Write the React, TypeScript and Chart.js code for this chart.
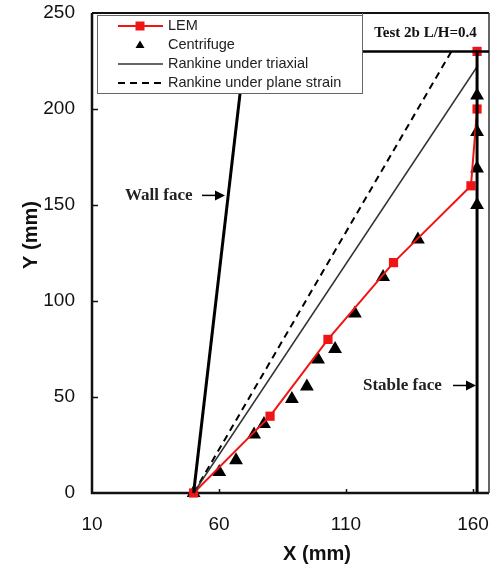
import React, { useEffect, useRef } from 'react';
import { Chart, registerables } from 'chart.js';
Chart.register(...registerables);

// ---- data ----
const X_TICKS = [10, 60, 110, 160];
const Y_TICKS = [0, 50, 100, 150, 200, 250];
const X_MIN = 10;
const X_MAX = 166.3;
const Y_MIN = 0;
const Y_MAX = 250;

const LEM_X = [50, 80.1, 102.9, 128.7, 159.2, 161.6, 161.6];
const LEM_Y = [0, 40, 80, 120, 160, 200, 230];

const CEN_X = [50, 60.1, 66.7, 73.8, 77.7, 88.7, 94.6, 99, 105.7, 113.5, 124.6, 138.3, 161.6, 161.6, 161.6, 161.6];
const CEN_Y = [0, 11, 17, 30.5, 36, 49, 55.5, 69.5, 75, 93.5, 112.5, 132, 150, 169, 188, 207];

const TRIAX_X = [50, 161.6];
const TRIAX_Y = [0, 222];
const PLANE_X = [50, 151.5];
const PLANE_Y = [0, 230];
const WALL_X = [50, 71.1];
const WALL_Y = [0, 240];
const STABLE_X = [161.6, 161.6];
const STABLE_Y = [0, 230];
const BOX_X = [116.3, 166.3];
const BOX_Y = [230, 230];

const LEGEND_LABELS = ['LEM', 'Centrifuge', 'Rankine under triaxial', 'Rankine under plane strain'];
const TEST_LABEL = 'Test 2b L/H=0.4';
const WALL_LABEL = 'Wall face';
const STABLE_LABEL = 'Stable face';
const X_TITLE = 'X (mm)';
const Y_TITLE = 'Y (mm)';

const RED = '#f01414';
const SANS = '"Liberation Sans", Arial, sans-serif';
const SERIF = '"Liberation Serif", "Times New Roman", serif';

const pts = (xs: number[], ys: number[]) => xs.map((x, i) => ({ x, y: ys[i] }));

const decor = {
  id: 'decor',
  beforeDatasetsDraw(chart: any) {
    const { ctx, chartArea: a } = chart;
    const xs = chart.scales.x;
    const ys = chart.scales.y;
    ctx.save();
    ctx.strokeStyle = '#111';
    ctx.lineWidth = 1.5;
    ctx.beginPath();
    Y_TICKS.slice(1, -1).forEach((v) => {
      const p = Math.round(ys.getPixelForValue(v)) + 0.5;
      ctx.moveTo(a.left, p);
      ctx.lineTo(a.left + 6, p);
    });
    X_TICKS.slice(1).forEach((v) => {
      const p = Math.round(xs.getPixelForValue(v)) + 0.5;
      ctx.moveTo(p, a.bottom);
      ctx.lineTo(p, a.bottom - 4);
    });
    ctx.stroke();
    // frame
    ctx.strokeStyle = '#111';
    ctx.lineWidth = 2.5;
    ctx.beginPath();
    ctx.moveTo(a.left, a.top);
    ctx.lineTo(a.left, a.bottom);
    ctx.lineTo(a.right, a.bottom);
    ctx.stroke();
    ctx.lineWidth = 2;
    ctx.beginPath();
    ctx.moveTo(a.left, a.top);
    ctx.lineTo(a.right, a.top);
    ctx.stroke();
    ctx.lineWidth = 1.5;
    ctx.strokeStyle = '#333';
    ctx.beginPath();
    ctx.moveTo(a.right, a.top);
    ctx.lineTo(a.right, a.bottom);
    ctx.stroke();
    ctx.restore();
  },
  afterDatasetsDraw(chart: any) {
    const { ctx, chartArea: a } = chart;
    const xs = chart.scales.x;
    const ys = chart.scales.y;
    const ds = chart.data.datasets;
    ctx.save();

    // legend box
    const lx = a.left + 5, ly = a.top + 2, lw = 265, lh = 78;
    ctx.fillStyle = '#fff';
    ctx.fillRect(lx, ly, lw, lh);
    ctx.strokeStyle = '#666';
    ctx.lineWidth = 1;
    ctx.strokeRect(lx + 0.5, ly + 0.5, lw, lh);
    const rows = [ly + 11, ly + 30, ly + 49, ly + 68];
    const sx0 = lx + 21, sx1 = lx + 66, sxm = lx + 43, tx = lx + 71;
    ctx.font = `14.5px ${SANS}`;
    ctx.fillStyle = '#222';
    ctx.textBaseline = 'middle';
    ctx.textAlign = 'left';
    LEGEND_LABELS.forEach((t, i) => ctx.fillText(t, tx, rows[i]));
    // LEM sample
    const lem = ds[5];
    ctx.strokeStyle = lem.borderColor;
    ctx.lineWidth = lem.borderWidth;
    ctx.beginPath(); ctx.moveTo(sx0, rows[0]); ctx.lineTo(sx1, rows[0]); ctx.stroke();
    ctx.fillStyle = lem.pointBackgroundColor;
    ctx.fillRect(sxm - 4.5, rows[0] - 4.5, 9, 9);
    // centrifuge sample
    ctx.fillStyle = '#000';
    ctx.beginPath();
    ctx.moveTo(sxm, rows[1] - 4.5);
    ctx.lineTo(sxm + 4.5, rows[1] + 3);
    ctx.lineTo(sxm - 4.5, rows[1] + 3);
    ctx.closePath(); ctx.fill();
    // triaxial
    const tri = ds[3];
    ctx.strokeStyle = tri.borderColor;
    ctx.lineWidth = tri.borderWidth;
    ctx.beginPath(); ctx.moveTo(sx0, rows[2]); ctx.lineTo(sx1, rows[2]); ctx.stroke();
    // plane strain
    const pl = ds[4];
    ctx.strokeStyle = pl.borderColor;
    ctx.lineWidth = pl.borderWidth;
    ctx.setLineDash(pl.borderDash);
    ctx.beginPath(); ctx.moveTo(sx0, rows[3]); ctx.lineTo(sx1 + 2, rows[3]); ctx.stroke();
    ctx.setLineDash([]);

    // test box
    const bx = xs.getPixelForValue(BOX_X[0]);
    const by = ys.getPixelForValue(BOX_Y[0]);
    ctx.strokeStyle = '#666';
    ctx.lineWidth = 1;
    ctx.beginPath(); ctx.moveTo(bx + 0.5, a.top); ctx.lineTo(bx + 0.5, by); ctx.stroke();
    ctx.fillStyle = '#111';
    ctx.font = `bold 15px ${SERIF}`;
    ctx.textAlign = 'center';
    ctx.fillText(TEST_LABEL, (bx + a.right) / 2, (a.top + by) / 2 + 1);

    // annotations with arrows
    const arrow = (x0: number, x1: number, y: number) => {
      ctx.strokeStyle = '#000';
      ctx.lineWidth = 1.5;
      ctx.beginPath(); ctx.moveTo(x0, y); ctx.lineTo(x1 - 6, y); ctx.stroke();
      ctx.fillStyle = '#000';
      ctx.beginPath();
      ctx.moveTo(x1, y); ctx.lineTo(x1 - 10, y - 5); ctx.lineTo(x1 - 10, y + 5);
      ctx.closePath(); ctx.fill();
    };
    ctx.font = `bold 17px ${SERIF}`;
    ctx.textAlign = 'left';
    ctx.fillStyle = '#222';
    const wy = ys.getPixelForValue(155);
    ctx.fillText(WALL_LABEL, a.left + 33, wy);
    arrow(a.left + 110, a.left + 133, wy);
    const sy = ys.getPixelForValue(56);
    ctx.fillStyle = '#222';
    ctx.fillText(STABLE_LABEL, a.left + 271, sy);
    arrow(a.left + 361, a.left + 384, sy);

    // axis titles
    ctx.fillStyle = '#111';
    ctx.font = `bold 20px ${SANS}`;
    ctx.textAlign = 'center';
    ctx.fillText(X_TITLE, 317, 554);
    ctx.translate(31, 235);
    ctx.rotate(-Math.PI / 2);
    ctx.fillText(Y_TITLE, 0, 0);
    ctx.restore();
  },
};

export default function App() {
  const ref = useRef<HTMLCanvasElement>(null);
  useEffect(() => {
    const lineDs = (label: string, xs: number[], ys: number[], color: string, width: number, extra: any = {}) => ({
      label,
      data: pts(xs, ys),
      showLine: true,
      borderColor: color,
      backgroundColor: color,
      borderWidth: width,
      pointRadius: 0,
      clip: false,
      ...extra,
    });
    const chart = new Chart(ref.current!, {
      type: 'scatter',
      data: {
        datasets: [
          lineDs('Wall', WALL_X, WALL_Y, '#000', 3),
          lineDs('Stable', STABLE_X, STABLE_Y, '#000', 3),
          lineDs('Box', BOX_X, BOX_Y, '#000', 2.5),
          lineDs(LEGEND_LABELS[2], TRIAX_X, TRIAX_Y, '#333', 1.5),
          lineDs(LEGEND_LABELS[3], PLANE_X, PLANE_Y, '#000', 2, { borderDash: [7, 5] }),
          lineDs(LEGEND_LABELS[0], LEM_X, LEM_Y, RED, 2, {
            pointRadius: 6.5,
            pointStyle: 'rect',
            pointBackgroundColor: RED,
            pointBorderWidth: 0,
          }),
          {
            label: LEGEND_LABELS[1],
            data: pts(CEN_X, CEN_Y),
            showLine: false,
            pointStyle: 'triangle',
            pointRadius: 8,
            pointBackgroundColor: '#000',
            pointBorderWidth: 0,
            borderColor: '#000',
            backgroundColor: '#000',
            clip: false,
          },
        ],
      } as any,
      options: {
        responsive: false,
        devicePixelRatio: 1,
        animation: false,
        layout: { padding: { top: 13, right: 9, left: 0, bottom: 0 } },
        plugins: { legend: { display: false }, tooltip: { enabled: false } },
        scales: {
          x: {
            type: 'linear',
            min: X_MIN,
            max: X_MAX,
            afterBuildTicks: (s: any) => { s.ticks = X_TICKS.map((v) => ({ value: v })); },
            afterFit: (s: any) => { s.height = 77; s.paddingLeft = 0; s.paddingRight = 0; },
            grid: { display: false },
            border: { display: false },
            ticks: { color: '#111', font: { family: SANS, size: 19 }, padding: 12, maxRotation: 0 },
          },
          y: {
            type: 'linear',
            min: Y_MIN,
            max: Y_MAX,
            afterBuildTicks: (s: any) => { s.ticks = Y_TICKS.map((v) => ({ value: v })); },
            afterFit: (s: any) => { s.width = 92; s.paddingTop = 0; s.paddingBottom = 0; },
            grid: { display: false },
            border: { display: false },
            ticks: { color: '#111', font: { family: SANS, size: 19 }, padding: 9 },
          },
        },
      } as any,
      plugins: [decor],
    });
    return () => chart.destroy();
  }, []);
  return (
    <div style={{ position: 'absolute', left: 0, top: 0, width: 498, height: 570, background: '#fff' }}>
      <canvas ref={ref} width={498} height={570} style={{ display: 'block', width: 498, height: 570 }} />
    </div>
  );
}
